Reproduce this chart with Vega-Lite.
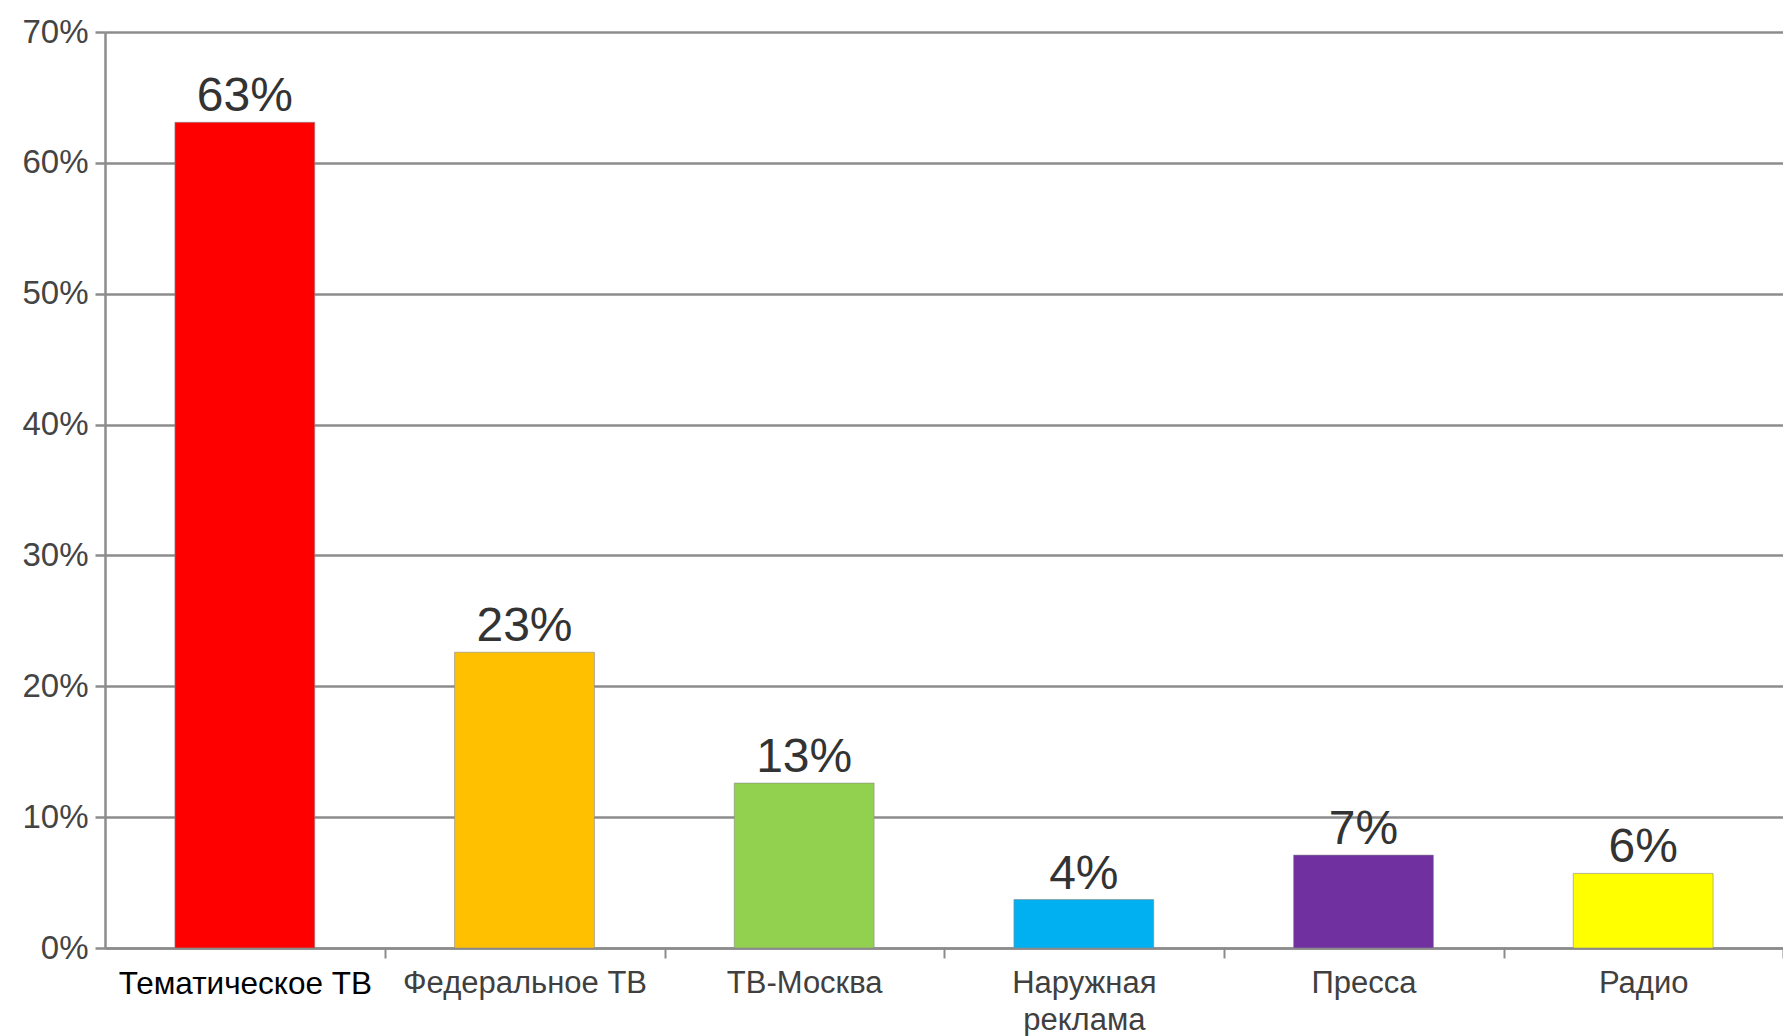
{
  "$schema": "https://vega.github.io/schema/vega-lite/v6.json",
  "width": 1678,
  "height": 916,
  "autosize": {"type": "none"},
  "padding": {"left": 105, "top": 32, "right": 0, "bottom": 88},
  "background": "white",
  "config": {
    "view": {"stroke": null},
    "font": "Liberation Sans"
  },
  "data": {
    "values": [
      {"category": "Тематическое ТВ", "value": 0.631, "color": "#FF0000"},
      {"category": "Федеральное ТВ", "value": 0.226, "color": "#FFC000"},
      {"category": "ТВ-Москва", "value": 0.126, "color": "#92D050"},
      {"category": "Наружная реклама", "value": 0.037, "color": "#00B0F0"},
      {"category": "Пресса", "value": 0.071, "color": "#7030A0"},
      {"category": "Радио", "value": 0.057, "color": "#FFFF00"}
    ]
  },
  "encoding": {
    "x": {
      "field": "category",
      "type": "nominal",
      "sort": null,
      "scale": {"paddingInner": 0.5, "paddingOuter": 0.25},
      "axis": {
        "title": null,
        "labelAngle": 0,
        "labelLimit": 0,
        "labelFont": "Liberation Sans",
        "labelFontSize": {"condition": {"test": "datum.value == 'Тематическое ТВ'", "value": 31.5}, "value": 31},
        "labelColor": {"condition": {"test": "datum.value == 'Тематическое ТВ'", "value": "#000000"}, "value": "#404040"},
        "labelExpr": "datum.value == 'Наружная реклама' ? ['Наружная', 'реклама'] : datum.value",
        "labelLineHeight": 37,
        "labelPadding": 10,
        "tickOffset": 140,
        "labelOffset": -140,
        "tickSize": 10,
        "tickColor": "#8c8c8c",
        "tickWidth": 2,
        "domainColor": "#8c8c8c",
        "domainWidth": 2.5,
        "grid": false
      }
    },
    "y": {
      "field": "value",
      "type": "quantitative",
      "scale": {"domain": [0, 0.7], "nice": false},
      "axis": {
        "title": null,
        "values": [0, 0.1, 0.2, 0.3, 0.4, 0.5, 0.6, 0.7],
        "format": ".0%",
        "labelFont": "Liberation Sans",
        "labelFontSize": 33,
        "labelColor": "#444444",
        "labelPadding": 7,
        "tickSize": 10,
        "tickColor": "#8c8c8c",
        "tickWidth": 2.5,
        "domainColor": "#8c8c8c",
        "domainWidth": 2.5,
        "grid": true,
        "gridColor": "#8c8c8c",
        "gridWidth": 2.5
      }
    }
  },
  "layer": [
    {
      "mark": {"type": "bar", "stroke": "#8a8a8a", "strokeWidth": 1, "strokeOpacity": 0.6},
      "encoding": {
        "color": {"field": "color", "type": "nominal", "scale": null, "legend": null}
      }
    },
    {
      "mark": {"type": "text", "baseline": "bottom", "dy": -1, "fontSize": 48, "color": "#333333", "font": "Liberation Sans"},
      "encoding": {
        "text": {"field": "value", "type": "quantitative", "format": ".0%"}
      }
    }
  ]
}
